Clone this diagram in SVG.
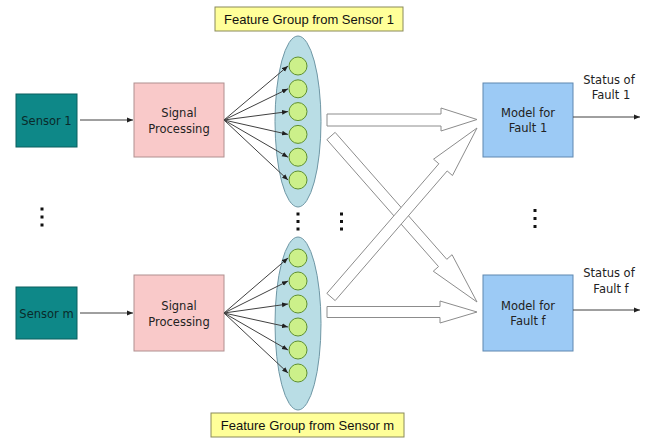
<svg xmlns="http://www.w3.org/2000/svg" width="652" height="438" viewBox="0 0 652 438">
<defs>
<marker id="ah" viewBox="0 0 10 10" refX="10" refY="5" markerWidth="6" markerHeight="6" markerUnits="userSpaceOnUse" orient="auto"><path d="M0,1 L10,5 L0,9 z" fill="#202020"/></marker>
<style>
.sensor{fill:#0e8888;stroke:#0a5e5e;stroke-width:1}
.sp{fill:#f9c9c9;stroke:#b08f8f;stroke-width:1}
.model{fill:#9ccaf5;stroke:#5f87b0;stroke-width:1}
.lbl{fill:#ffff99;stroke:#8a8a5a;stroke-width:1}
.grp{fill:#b9dde5;stroke:#6f97a5;stroke-width:1}
.feat{fill:#ccf08a;stroke:#5f9030;stroke-width:1}
.t{font-family:"DejaVu Sans",Verdana,sans-serif;font-size:11.5px;fill:#222;text-anchor:middle}
.ts{font-family:"DejaVu Sans",Verdana,sans-serif;font-size:11.5px;fill:#0a2a2a;text-anchor:middle}
.tl{font-family:"Liberation Sans",Arial,sans-serif;font-size:13px;fill:#111;text-anchor:middle}
.ln{stroke:#404040;stroke-width:1;fill:none;marker-end:url(#ah)}
.blk{fill:#fff;stroke:#8c8c8c;stroke-width:1}
.dot{fill:#111}
</style>
</defs>

<g id="label-top"><rect class="lbl" x="215" y="7" width="188" height="24"/><text class="tl" x="309" y="23.5">Feature Group from Sensor 1</text></g>
<g id="label-bottom"><rect class="lbl" x="211" y="413" width="193" height="24"/><text class="tl" x="307.5" y="429.5">Feature Group from Sensor m</text></g>

<g id="sensor1"><rect class="sensor" x="16" y="94" width="61" height="53"/><text class="ts" x="46.5" y="124.5">Sensor 1</text></g>
<g id="sensorm"><rect class="sensor" x="16" y="287" width="61" height="52"/><text class="ts" x="46.5" y="317.5">Sensor m</text></g>

<g id="sp1"><rect class="sp" x="134" y="83" width="90" height="74"/><text class="t" x="179" y="117">Signal</text><text class="t" x="179" y="133">Processing</text></g>
<g id="spm"><rect class="sp" x="134" y="275" width="90" height="76"/><text class="t" x="179" y="310">Signal</text><text class="t" x="179" y="326">Processing</text></g>

<g id="group1">
<ellipse class="grp" cx="298" cy="121.5" rx="23" ry="85.5"/>
<circle class="feat" cx="298" cy="66" r="9"/>
<circle class="feat" cx="298" cy="88.8" r="9"/>
<circle class="feat" cx="298" cy="111.6" r="9"/>
<circle class="feat" cx="298" cy="134.4" r="9"/>
<circle class="feat" cx="298" cy="157.2" r="9"/>
<circle class="feat" cx="298" cy="180" r="9"/>
</g>
<g id="groupm">
<ellipse class="grp" cx="298" cy="323.5" rx="23" ry="86.5"/>
<circle class="feat" cx="298" cy="258" r="9"/>
<circle class="feat" cx="298" cy="281" r="9"/>
<circle class="feat" cx="298" cy="304" r="9"/>
<circle class="feat" cx="298" cy="327" r="9"/>
<circle class="feat" cx="298" cy="350" r="9"/>
<circle class="feat" cx="298" cy="373" r="9"/>
</g>

<g id="model1"><rect class="model" x="483" y="83" width="90" height="74"/><text class="t" x="528" y="117">Model for</text><text class="t" x="528" y="131.5">Fault 1</text></g>
<g id="modelf"><rect class="model" x="483" y="275" width="90" height="76"/><text class="t" x="528" y="310">Model for</text><text class="t" x="528" y="325">Fault f</text></g>

<g id="status1"><text class="t" x="609" y="84">Status of</text><text class="t" x="611" y="99">Fault 1</text></g>
<g id="statusf"><text class="t" x="609" y="277">Status of</text><text class="t" x="611" y="293">Fault f</text></g>

<g id="connectors">
<line class="ln" x1="80" y1="120" x2="133" y2="120"/>
<line class="ln" x1="80" y1="313" x2="133" y2="313"/>
<line class="ln" x1="224" y1="120" x2="288" y2="66"/>
<line class="ln" x1="224" y1="120" x2="288" y2="88.8"/>
<line class="ln" x1="224" y1="120" x2="288" y2="111.6"/>
<line class="ln" x1="224" y1="120" x2="288" y2="134.4"/>
<line class="ln" x1="224" y1="120" x2="288" y2="157.2"/>
<line class="ln" x1="224" y1="120" x2="288" y2="180"/>
<line class="ln" x1="224" y1="313" x2="288" y2="258"/>
<line class="ln" x1="224" y1="313" x2="288" y2="281"/>
<line class="ln" x1="224" y1="313" x2="288" y2="304"/>
<line class="ln" x1="224" y1="313" x2="288" y2="327"/>
<line class="ln" x1="224" y1="313" x2="288" y2="350"/>
<line class="ln" x1="224" y1="313" x2="288" y2="373"/>
<line class="ln" x1="573" y1="117" x2="640" y2="117"/>
<line class="ln" x1="573" y1="310" x2="640" y2="310"/>
<polygon class="blk" points="327,114 441,114 441,108 477,119.5 441,131 441,126 327,126"/>
<polygon class="blk" points="327,306.5 440,306.5 440,301 477,312 440,323 440,317.5 327,317.5"/>
<polygon class="blk" points="335.13,132.37 446.79,259.32 452.05,254.70 477,302 433.27,271.21 438.53,266.58 326.87,139.63"/>
<polygon class="blk" points="326.84,293.40 438.85,163.75 433.55,159.18 477,128 452.47,175.52 447.17,170.95 335.16,300.60"/>
</g>

<g id="ellipses">
<rect class="dot" x="40.5" y="207.5" width="3" height="3"/>
<rect class="dot" x="40.5" y="215.5" width="3" height="3"/>
<rect class="dot" x="40.5" y="223.5" width="3" height="3"/>
<rect class="dot" x="296.5" y="212.5" width="3" height="3"/>
<rect class="dot" x="296.5" y="220" width="3" height="3"/>
<rect class="dot" x="296.5" y="227.5" width="3" height="3"/>
<rect class="dot" x="340" y="212.5" width="3" height="3"/>
<rect class="dot" x="340" y="220" width="3" height="3"/>
<rect class="dot" x="340" y="227.5" width="3" height="3"/>
<rect class="dot" x="533.5" y="209" width="3" height="3"/>
<rect class="dot" x="533.5" y="217" width="3" height="3"/>
<rect class="dot" x="533.5" y="225" width="3" height="3"/>
</g>
</svg>
